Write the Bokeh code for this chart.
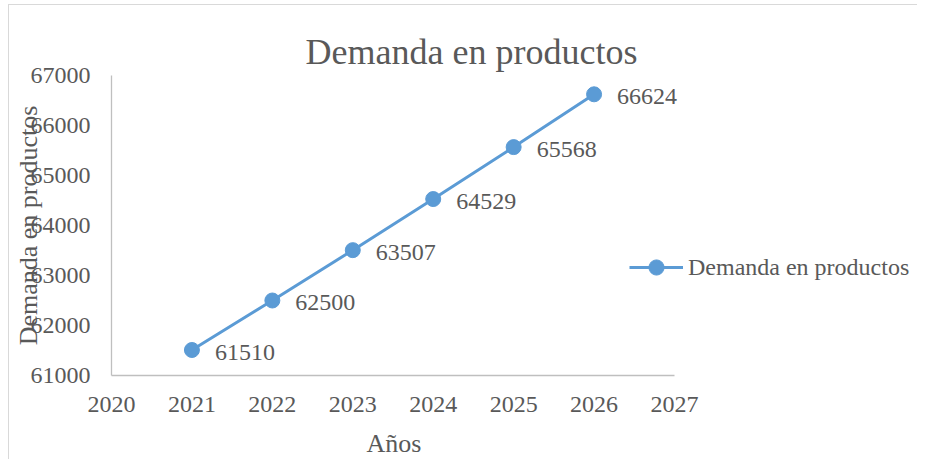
from bokeh.plotting import figure
from bokeh.models import (Range1d, FixedTicker, BasicTickFormatter, Legend,
                          LegendItem, ColumnDataSource, Title)
from bokeh.core.properties import value
from bokeh.embed import file_html
from bokeh.resources import INLINE

# ---- data ----
years = [2021, 2022, 2023, 2024, 2025, 2026]
demand = [61510, 62500, 63507, 64529, 65568, 66624]
x_ticks = [2020, 2021, 2022, 2023, 2024, 2025, 2026, 2027]
y_ticks = [61000, 62000, 63000, 64000, 65000, 66000, 67000]
title_text = "Demanda en productos"
series_name = "Demanda en productos"
x_title = "Años"
y_title = "Demanda en productos"

FONT = "Liberation Serif"
TXT = "#595959"
BLUE = "#5B9BD5"
AX = "#BFBFBF"

# layout (pixels)
AXIS_W = 563          # length of the x axis (2020..2027)
FRAME_W = 804         # frame extends right to hold the legend
FRAME_H = 300
px_year = AXIS_W / (x_ticks[-1] - x_ticks[0])
x_end = x_ticks[0] + FRAME_W / px_year

src = ColumnDataSource(dict(x=years, y=demand, lab=[str(v) for v in demand]))

p = figure(frame_width=FRAME_W, frame_height=FRAME_H, title=None,
           min_border_left=102, min_border_right=2,
           min_border_top=70, min_border_bottom=80,
           x_range=Range1d(x_ticks[0], x_end),
           y_range=Range1d(y_ticks[0], y_ticks[-1]),
           output_backend="svg", toolbar_location=None,
           background_fill_color="white", border_fill_color="white")
p.styles = {"border-top": "1px solid #D9D9D9", "border-left": "1px solid #D9D9D9",
            "margin-left": "8px", "margin-top": "4px"}
p.outline_line_color = None
p.grid.visible = False

# small empty spacer between frame and chart title
p.add_layout(Title(text=" ", text_font_size="1px", standoff=1), "above")
p.add_layout(Title(text=title_text, align="left", offset=194, standoff=0,
                   text_font=FONT, text_font_size="36px",
                   text_font_style="normal", text_color=TXT), "above")

for ax in (p.xaxis[0], p.yaxis[0]):
    ax.axis_line_color = AX
    ax.axis_line_width = 1.3
    ax.major_tick_line_color = None
    ax.minor_tick_line_color = None
    ax.major_label_text_font = FONT
    ax.major_label_text_font_size = "24px"
    ax.major_label_text_color = TXT
    ax.axis_label_text_font = FONT
    ax.axis_label_text_font_size = "26px"
    ax.axis_label_text_color = TXT
    ax.axis_label_text_font_style = "normal"

p.xaxis.ticker = FixedTicker(ticks=x_ticks)
p.yaxis.ticker = FixedTicker(ticks=y_ticks)
p.xaxis.bounds = (x_ticks[0], x_ticks[-1])
p.yaxis.formatter = BasicTickFormatter(use_scientific=False)
p.xaxis.formatter = BasicTickFormatter(use_scientific=False)
p.xaxis.major_label_standoff = 15
p.yaxis.major_label_standoff = 15
p.yaxis.axis_label = y_title
p.yaxis.axis_label_standoff = -15

# x-axis title placed under the tick labels, over the axis' own span
p.add_layout(Title(text=x_title, align="left", offset=255, standoff=24,
                   text_font=FONT, text_font_size="26px",
                   text_font_style="normal", text_color=TXT), "below")

line_r = p.line("x", "y", source=src, line_color=BLUE, line_width=3)
circ_r = p.scatter("x", "y", source=src, size=15, fill_color=BLUE, line_color=BLUE)

p.text("x", "y", text="lab", source=src, x_offset=23, y_offset=2,
       text_align="left", text_baseline="middle",
       text_font=value(FONT), text_font_size="24px", text_color=TXT)

legend = Legend(items=[LegendItem(label=series_name, renderers=[line_r, circ_r])],
                location=(518, 89), glyph_width=54, glyph_height=38,
                label_standoff=5, padding=0, margin=0, spacing=0,
                border_line_alpha=0, background_fill_alpha=0,
                label_text_font=FONT, label_text_font_size="24px",
                label_text_color=TXT)
p.add_layout(legend)

open("out.html", "w").write(file_html(p, INLINE))
